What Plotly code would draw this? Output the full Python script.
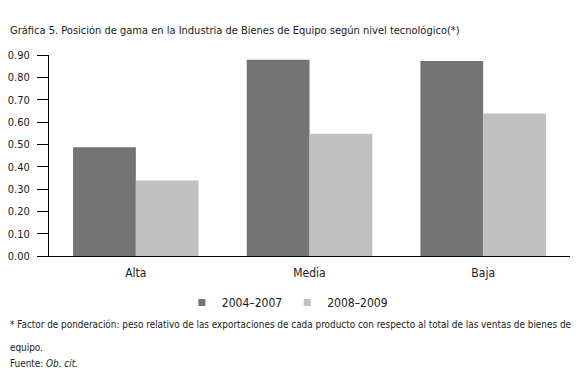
import plotly.graph_objects as go

categories = ["Alta", "Media", "Baja"]
series_2004_2007 = [0.487, 0.879, 0.873]
series_2008_2009 = [0.338, 0.547, 0.638]
series_names = ["2004–2007", "2008–2009"]
series_colors = ["#747474", "#c0c0c0"]
y_ticks = [0.0, 0.1, 0.2, 0.3, 0.4, 0.5, 0.6, 0.7, 0.8, 0.9]

FONT = "DejaVu Sans Condensed, Liberation Sans Narrow, sans-serif"

fig = go.Figure()
for vals, name, col in zip([series_2004_2007, series_2008_2009], series_names, series_colors):
    fig.add_trace(go.Bar(x=categories, y=vals, name=name, showlegend=False,
                         marker=dict(color=col, line=dict(width=0))))
# legend proxies (small square swatches as in the reference)
for name, col in zip(series_names, series_colors):
    fig.add_trace(go.Scatter(x=[None], y=[None], mode="markers", name=name,
                             marker=dict(symbol="square", size=7, color=col)))

# page body has an 8px default margin, so the figure is 571x374
fig.update_layout(
    width=571, height=374,
    margin=dict(l=41, r=9, t=47, b=126, autoexpand=False),
    paper_bgcolor="white", plot_bgcolor="white",
    font=dict(family=FONT, size=12, color="#1a1a1a"),
    barmode="group", bargap=0.277, bargroupgap=0,
    showlegend=True,
    legend=dict(orientation="h", x=0.255, xanchor="left", y=-0.159, yanchor="top",
                font=dict(size=12, family=FONT), itemwidth=30,
                traceorder="normal"),
    xaxis=dict(showline=True, linecolor="black", linewidth=1, ticks="",
               showgrid=False, tickfont=dict(size=12), ticklabelstandoff=6,
               automargin=False),
    yaxis=dict(range=[0, 0.9], tickvals=y_ticks, tickformat=".2f",
               showline=True, linecolor="black", linewidth=1,
               ticks="outside", ticklen=11, tickcolor="black",
               showgrid=False, zeroline=False, tickfont=dict(size=11),
               ticklabelstandoff=5, automargin=False),
    annotations=[
        dict(text="Gráfica 5. Posición de gama en la Industria de Bienes de Equipo según nivel tecnológico(*)",
             xref="paper", yref="paper", x=-0.0787, y=1.124, xanchor="left", yanchor="middle",
             showarrow=False, font=dict(size=11.0, family=FONT)),
        dict(text="* Factor de ponderación: peso relativo de las exportaciones de cada producto con respecto al total de las ventas de bienes de",
             xref="paper", yref="paper", x=-0.0787, y=-0.343, xanchor="left", yanchor="middle",
             showarrow=False, font=dict(size=9.9, family=FONT)),
        dict(text="equipo.",
             xref="paper", yref="paper", x=-0.0787, y=-0.453, xanchor="left", yanchor="middle",
             showarrow=False, font=dict(size=9.9, family=FONT)),
        dict(text="Fuente: <i>Ob. cit.</i>",
             xref="paper", yref="paper", x=-0.0787, y=-0.537, xanchor="left", yanchor="middle",
             showarrow=False, font=dict(size=9.9, family=FONT)),
    ],
)

fig.write_html("out.html")
